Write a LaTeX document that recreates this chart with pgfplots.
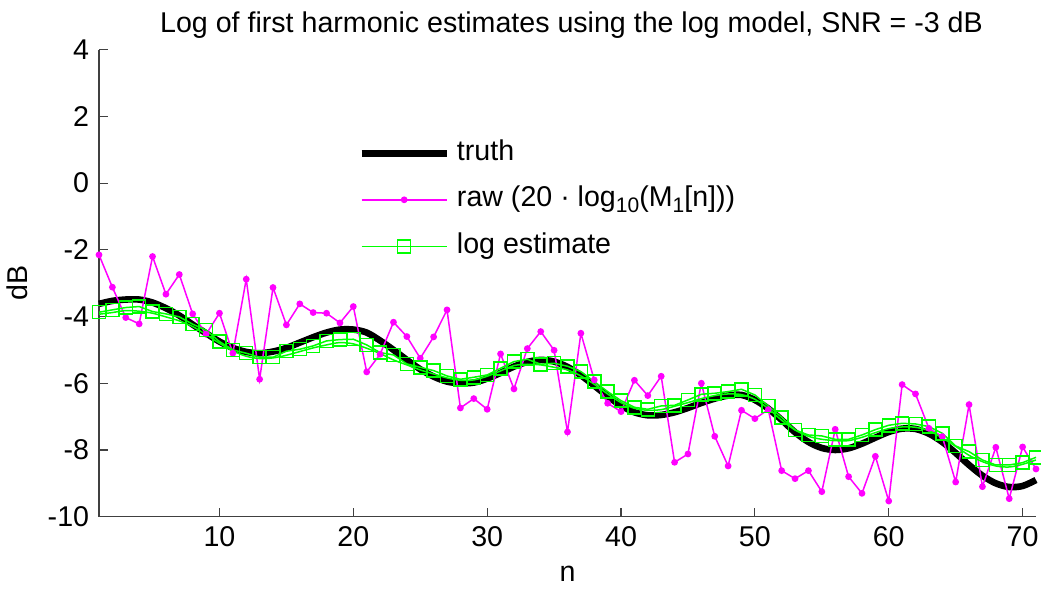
\documentclass[border=0pt]{standalone}
\usepackage{fontspec}
\setmainfont{Liberation Sans}
\usepackage{pgfplots}
\pgfplotsset{compat=1.18}
\usepackage{pgfplotstable}
\definecolor{mag}{RGB}{255,0,255}
\definecolor{grn}{RGB}{0,255,0}
\newcommand{\ff}{\fontsize{14.3}{17}\selectfont}

\pgfplotstableread{
n truth raw est estb
1 -3.62 -2.15 -3.87 -3.93
2 -3.53 -3.12 -3.80 -3.88
3 -3.49 -4.03 -3.73 -3.82
4 -3.49 -4.22 -3.70 -3.84
5 -3.58 -2.20 -3.85 -3.90
6 -3.75 -3.33 -3.92 -4.01
7 -3.97 -2.74 -4.01 -4.13
8 -4.24 -3.92 -4.23 -4.30
9 -4.50 -4.53 -4.41 -4.54
10 -4.75 -3.90 -4.75 -4.80
11 -4.94 -5.10 -5.00 -5.03
12 -5.06 -2.88 -5.10 -5.19
13 -5.10 -5.88 -5.22 -5.26
14 -5.05 -3.13 -5.22 -5.24
15 -4.94 -4.25 -5.04 -5.16
16 -4.78 -3.62 -4.98 -5.05
17 -4.62 -3.88 -4.88 -4.94
18 -4.48 -3.90 -4.73 -4.85
19 -4.39 -4.19 -4.69 -4.78
20 -4.39 -3.70 -4.68 -4.82
21 -4.48 -5.66 -4.85 -4.95
22 -4.72 -5.13 -5.08 -5.11
23 -5.00 -4.17 -5.15 -5.30
24 -5.30 -4.60 -5.42 -5.45
25 -5.58 -5.25 -5.52 -5.60
26 -5.80 -4.61 -5.62 -5.72
27 -5.95 -3.80 -5.78 -5.84
28 -6.00 -6.74 -5.88 -5.91
29 -5.98 -6.46 -5.82 -5.90
30 -5.86 -6.78 -5.75 -5.79
31 -5.69 -5.12 -5.55 -5.63
32 -5.50 -6.17 -5.35 -5.47
33 -5.36 -4.96 -5.28 -5.43
34 -5.30 -4.45 -5.43 -5.45
35 -5.35 -5.01 -5.40 -5.52
36 -5.51 -7.46 -5.49 -5.60
37 -5.76 -4.50 -5.65 -5.78
38 -6.07 -5.90 -5.95 -6.03
39 -6.39 -6.60 -6.25 -6.32
40 -6.67 -6.85 -6.52 -6.58
41 -6.87 -5.91 -6.72 -6.75
42 -6.96 -6.37 -6.78 -6.81
43 -6.95 -5.79 -6.68 -6.79
44 -6.87 -8.37 -6.66 -6.69
45 -6.74 -8.12 -6.50 -6.58
46 -6.59 -6.00 -6.33 -6.46
47 -6.46 -7.59 -6.30 -6.37
48 -6.37 -8.48 -6.25 -6.32
49 -6.35 -6.81 -6.18 -6.34
50 -6.50 -7.06 -6.35 -6.48
51 -6.76 -6.79 -6.68 -6.76
52 -7.10 -8.62 -7.02 -7.11
53 -7.47 -8.86 -7.40 -7.40
54 -7.76 -8.62 -7.55 -7.59
55 -7.94 -9.25 -7.58 -7.68
56 -8.00 -7.38 -7.68 -7.72
57 -7.95 -8.80 -7.68 -7.72
58 -7.81 -9.30 -7.55 -7.62
59 -7.63 -8.19 -7.39 -7.48
60 -7.46 -9.53 -7.26 -7.36
61 -7.36 -6.04 -7.20 -7.31
62 -7.37 -6.32 -7.22 -7.32
63 -7.51 -7.35 -7.30 -7.42
64 -7.76 -7.60 -7.50 -7.64
65 -8.09 -8.96 -7.88 -7.89
66 -8.45 -6.64 -8.05 -8.16
67 -8.77 -9.10 -8.30 -8.35
68 -9.00 -7.92 -8.45 -8.48
69 -9.11 -9.46 -8.45 -8.51
70 -9.08 -7.91 -8.38 -8.43
71 -8.90 -8.57 -8.22 -8.30
}\datatable

\begin{document}
\ff
\begin{tikzpicture}
\begin{axis}[
  name=ax,
  scale only axis,
  width=468.5pt, height=233.5pt,
  xmin=1, xmax=71, ymin=-10, ymax=4,
  xtick={10,20,...,70},
  ytick={-10,-8,...,4},
  axis lines=left,
  axis line style={-, black!75, line width=0.6pt},
  tick style={black!75, line width=0.6pt},
  tick align=inside,
  major tick length=4.5pt,
  /pgf/number format/assume math mode=true,
  tick label style={font=\ff, black},
  label style={font=\ff},
  xlabel={n},
  ylabel={dB},
  title={Log of first harmonic estimates using the log model, SNR = -3 dB},
  title style={font=\ff, yshift=-5.5pt, xshift=2pt},
  clip=false,
  legend image code/.code={\draw[mark repeat=2,mark phase=2,#1] plot coordinates {(0pt,0pt) (21.25pt,0pt) (42.5pt,0pt)};},
  legend cell align=left,
  legend style={draw=none, fill=none, font=\ff,
    at={(rel axis cs:0.2764,0.8197)}, anchor=north west,
    inner xsep=0pt, inner ysep=0pt, row sep=4.25pt, column sep=1.5pt,
    nodes={inner sep=2pt, text height=11pt, text depth=4pt}},
]
\addplot[black, line width=3.3pt, smooth, no markers] table[x=n, y=truth] {\datatable};
\addlegendentry{truth}
\addplot[mag, line width=0.75pt, mark=*, mark size=1.3pt, mark options={fill=mag, draw=mag}] table[x=n, y=raw] {\datatable};
\addlegendentry{raw (20 · log\raisebox{-0.35ex}{\fontsize{10.5}{12}\selectfont 10}(M\raisebox{-0.35ex}{\fontsize{10.5}{12}\selectfont 1}[n]))}
\addplot[grn, line width=0.75pt, mark=square, mark size=3.25pt, mark options={draw=grn, line width=0.75pt}] table[x=n, y=est] {\datatable};
\addlegendentry{log estimate}
\addplot[grn, line width=0.75pt, smooth, no markers, forget plot] table[x=n, y=estb] {\datatable};
\end{axis}
\pgfresetboundingbox
\path (ax.south west) ++(-49.5pt,-38.15pt) coordinate (bl);
\path (ax.south west) ++(471pt,258.35pt) coordinate (tr);
\path (bl) rectangle (tr);
\end{tikzpicture}
\end{document}
